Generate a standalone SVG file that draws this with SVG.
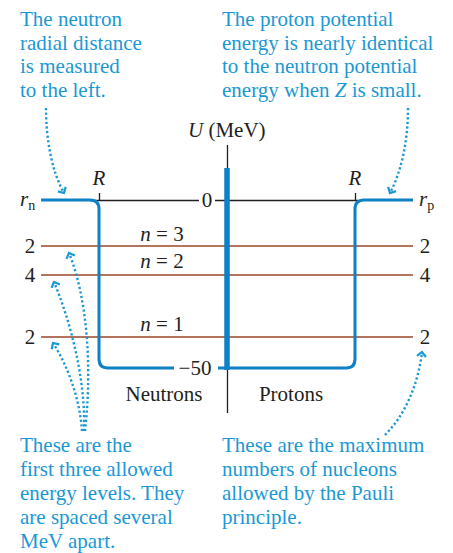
<svg xmlns="http://www.w3.org/2000/svg" width="453" height="553" viewBox="0 0 453 553">
<style>
  text { font-family: "Liberation Serif", "Times New Roman", serif; font-size: 21px; }
  .note { fill: #1b98d4; }
  .lbl { fill: #231f20; }
  .it { font-style: italic; }
  .sub { font-size: 14px; }
  .axis { stroke: #231f20; stroke-width: 1.3; fill: none; }
  .well { stroke: #0d80c6; stroke-width: 3; fill: none; }
  .level { stroke: #b4735d; stroke-width: 2; fill: none; }
  .dot { stroke: #1b98d4; stroke-width: 2.4; fill: none; stroke-dasharray: 2.2 2.4; }
</style>
<defs>
  <marker id="head" markerUnits="userSpaceOnUse" markerWidth="14" markerHeight="14" refX="7" refY="7" orient="auto" viewBox="0 0 14 14">
    <path d="M2.5,2.5 L7,7 L2.5,11.5" fill="none" stroke="#1b98d4" stroke-width="2.2"/>
  </marker>
</defs>

<g id="axes">
  <line class="axis" x1="227.5" y1="145" x2="227.5" y2="413"/>
  <line class="axis" x1="90" y1="200.5" x2="199" y2="200.5"/>
  <line class="axis" x1="215" y1="200.5" x2="358" y2="200.5"/>
  <line class="axis" x1="99.5" y1="193" x2="99.5" y2="200"/>
  <line class="axis" x1="355.5" y1="193" x2="355.5" y2="200"/>
  <text class="lbl" x="188" y="137"><tspan class="it">U</tspan> (MeV)</text>
  <text class="lbl" x="207" y="207" text-anchor="middle">0</text>
  <text class="lbl" x="195" y="375" text-anchor="middle">−50</text>
  <text class="lbl it" x="99" y="185" text-anchor="middle">R</text>
  <text class="lbl it" x="355" y="185" text-anchor="middle">R</text>
  <text class="lbl" x="20" y="206"><tspan class="it">r</tspan><tspan class="sub" dy="4">n</tspan></text>
  <text class="lbl" x="419" y="206"><tspan class="it">r</tspan><tspan class="sub" dy="4">p</tspan></text>
</g>

<g id="levels">
  <line class="level" x1="41" y1="246" x2="413" y2="246"/>
  <line class="level" x1="41" y1="275" x2="413" y2="275"/>
  <line class="level" x1="41" y1="337" x2="413" y2="337"/>
  <text class="lbl" x="30" y="253" text-anchor="middle">2</text>
  <text class="lbl" x="30" y="282" text-anchor="middle">4</text>
  <text class="lbl" x="30" y="344" text-anchor="middle">2</text>
  <text class="lbl" x="425" y="253" text-anchor="middle">2</text>
  <text class="lbl" x="425" y="282" text-anchor="middle">4</text>
  <text class="lbl" x="425" y="344" text-anchor="middle">2</text>
  <text class="lbl" x="162" y="241" text-anchor="middle"><tspan class="it">n</tspan> = 3</text>
  <text class="lbl" x="162" y="268" text-anchor="middle"><tspan class="it">n</tspan> = 2</text>
  <text class="lbl" x="162" y="331" text-anchor="middle"><tspan class="it">n</tspan> = 1</text>
</g>

<g id="neutron-well">
  <path class="well" d="M41,200 H90 Q99,200 99,209 V359 Q99,368 108,368 H174"/>
  <line class="well" x1="218" y1="368" x2="227" y2="368"/>
  <text class="lbl" x="164" y="401" text-anchor="middle">Neutrons</text>
</g>

<g id="proton-well">
  <path class="well" d="M227,368 H346 Q355,368 355,359 V209 Q355,200 364,200 H413"/>
  <text class="lbl" x="291" y="401" text-anchor="middle">Protons</text>
</g>

<g id="u-axis-bar">
  <line x1="227" y1="168" x2="227" y2="370" stroke="#0d80c6" stroke-width="5.5"/>
</g>

<g id="note-neutron-distance">
  <text class="note" x="20" y="26">The neutron</text>
  <text class="note" x="20" y="49.5">radial distance</text>
  <text class="note" x="20" y="73">is measured</text>
  <text class="note" x="20" y="97">to the left.</text>
</g>

<g id="note-proton-potential">
  <text class="note" x="222" y="26">The proton potential</text>
  <text class="note" x="222" y="49.5">energy is nearly identical</text>
  <text class="note" x="222" y="73">to the neutron potential</text>
  <text class="note" x="222" y="97">energy when <tspan class="it">Z</tspan> is small.</text>
</g>

<g id="note-levels">
  <text class="note" x="20" y="452">These are the</text>
  <text class="note" x="20" y="476">first three allowed</text>
  <text class="note" x="20" y="500">energy levels. They</text>
  <text class="note" x="20" y="524">are spaced several</text>
  <text class="note" x="20" y="548">MeV apart.</text>
</g>

<g id="note-pauli">
  <text class="note" x="222" y="452">These are the maximum</text>
  <text class="note" x="222" y="476">numbers of nucleons</text>
  <text class="note" x="222" y="500">allowed by the Pauli</text>
  <text class="note" x="222" y="524">principle.</text>
</g>

<g id="connectors">
  <path class="dot" d="M46,108 C46,140 52,172 64,193" marker-end="url(#head)"/>
  <path class="dot" d="M408,108 C408,140 402,170 390,193" marker-end="url(#head)"/>
  <path class="dot" d="M85,431 C92,370 88,300 69,253" marker-end="url(#head)"/>
  <path class="dot" d="M84,431 C86,380 70,320 54,282" marker-end="url(#head)"/>
  <path class="dot" d="M82,431 C80,400 68,366 53,343" marker-end="url(#head)"/>
  <path class="dot" d="M385,435 C405,415 418,385 422,352" marker-end="url(#head)"/>
</g>
</svg>
